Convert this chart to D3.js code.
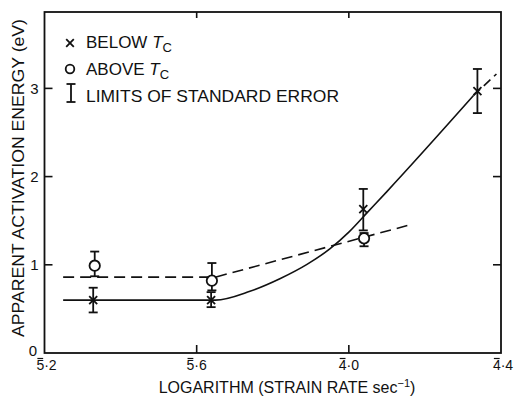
<!DOCTYPE html>
<html>
<head>
<meta charset="utf-8">
<script src="https://cdn.jsdelivr.net/npm/d3@7"></script>
<style>
  html, body { margin: 0; padding: 0; background: #fff; }
  svg { display: block; font-family: "Liberation Sans", Arial, sans-serif; }
</style>
</head>
<body>
<svg id="chart" width="515" height="401"></svg>
<script>
// ---- data (log strain rate, activation energy eV) ----
const belowTc = [
  { x: -4.672, y: 0.60, lo: 0.46, hi: 0.74 },
  { x: -4.362, y: 0.60, lo: 0.52, hi: 0.69 },
  { x: -3.962, y: 1.63, lo: 1.39, hi: 1.86 },
  { x: -3.662, y: 2.97, lo: 2.72, hi: 3.22 }
];
const aboveTc = [
  { x: -4.668, y: 0.99, lo: 0.87, hi: 1.15 },
  { x: -4.360, y: 0.82, lo: 0.71, hi: 1.02 },
  { x: -3.960, y: 1.30, lo: 1.21, hi: 1.36 }
];
// fitted curves as drawn
const belowCurve = [
  [-4.751, 0.60], [-4.351, 0.60], [-4.26, 0.70], [-4.18, 0.845],
  [-4.11, 1.005], [-4.05, 1.18], [-4.0, 1.37], [-3.95, 1.60],
  [-3.90, 1.83], [-3.672, 2.92]
];
const belowExtrap = [[-3.672, 2.92], [-3.612, 3.163]];
const aboveCurve = [[-4.751, 0.86], [-4.351, 0.86], [-3.833, 1.46]];

const xTicks = [-4.8, -4.4, -4.0, -3.6];
const xTickLabels = [["5", "·2"], ["5", "·6"], ["4", "·0"], ["4", "·4"]];
const yTicks = [0, 1, 2, 3];

// ---- layout ----
const svg = d3.select("#chart");
const M = { top: 12, right: 14, bottom: 48, left: 44.5 };
const W = 515 - M.left - M.right;
const H = 401 - M.top - M.bottom;

const x = d3.scaleLinear().domain([-4.8, -3.6]).range([M.left, M.left + W]);
const y = d3.scaleLinear().domain([0, 3.866]).range([M.top + H, M.top]);

const ink = "#111";

// frame
svg.append("rect")
  .attr("x", x(-4.8)).attr("y", y(3.866))
  .attr("width", x(-3.6) - x(-4.8)).attr("height", y(0) - y(3.866))
  .attr("fill", "none").attr("stroke", ink).attr("stroke-width", 1.8);

// inward ticks, both sides
const TL = 8;
yTicks.filter(d => d > 0).forEach(d => {
  svg.append("line").attr("x1", x(-4.8)).attr("x2", x(-4.8) + TL)
    .attr("y1", y(d)).attr("y2", y(d)).attr("stroke", ink).attr("stroke-width", 1.6);
  svg.append("line").attr("x1", x(-3.6)).attr("x2", x(-3.6) - TL)
    .attr("y1", y(d)).attr("y2", y(d)).attr("stroke", ink).attr("stroke-width", 1.6);
});
xTicks.slice(1, -1).forEach(d => {
  svg.append("line").attr("x1", x(d)).attr("x2", x(d))
    .attr("y1", y(0)).attr("y2", y(0) - TL).attr("stroke", ink).attr("stroke-width", 1.6);
  svg.append("line").attr("x1", x(d)).attr("x2", x(d))
    .attr("y1", y(3.866)).attr("y2", y(3.866) + TL - 2).attr("stroke", ink).attr("stroke-width", 1.6);
});

// y tick labels
svg.selectAll("text.ytl").data(yTicks).join("text")
  .attr("class", "ytl")
  .attr("x", d => d === 0 ? 37 : x(-4.8) - 6)
  .attr("y", d => d === 0 ? y(d) + 3 : y(d) + 5.5)
  .attr("text-anchor", "end").attr("font-size", 15).attr("fill", ink)
  .text(d => d);

// x tick labels with bar over characteristic
xTicks.forEach((d, i) => {
  let cx = x(d);
  if (i === 0) cx += 2;
  if (i === xTicks.length - 1) cx += 2;
  const t = svg.append("text")
    .attr("x", cx).attr("y", 370).attr("text-anchor", "middle")
    .attr("font-size", 14).attr("fill", ink);
  t.append("tspan").text(xTickLabels[i][0]);
  t.append("tspan").text(xTickLabels[i][1]);
  const b = t.node().getExtentOfChar(0);
  svg.append("line")
    .attr("x1", b.x + 1).attr("x2", b.x + b.width - 1)
    .attr("y1", 358.5).attr("y2", 358.5)
    .attr("stroke", ink).attr("stroke-width", 1.2);
});

// axis titles
const xt = svg.append("text")
  .attr("x", 287).attr("y", 393).attr("text-anchor", "middle")
  .attr("font-size", 16).attr("fill", ink);
xt.append("tspan").text("LOGARITHM (STRAIN RATE sec");
xt.append("tspan").attr("dy", -6).attr("font-size", 11).text("−1");
xt.append("tspan").attr("dy", 6).text(")");

svg.append("text")
  .attr("transform", "translate(24,178) rotate(-90)")
  .attr("text-anchor", "middle").attr("font-size", 16).attr("fill", ink)
  .attr("textLength", 318).attr("lengthAdjust", "spacingAndGlyphs")
  .text("APPARENT ACTIVATION ENERGY (eV)");

// ---- curves ----
const plot = svg.append("g");
const line = d3.line().x(d => x(d[0])).y(d => y(d[1]));

plot.append("path").datum(aboveCurve)
  .attr("d", line).attr("fill", "none").attr("stroke", ink)
  .attr("stroke-width", 1.6).attr("stroke-dasharray", "11,6");

plot.append("path").datum(belowCurve)
  .attr("d", d3.line().x(d => x(d[0])).y(d => y(d[1])).curve(d3.curveMonotoneX))
  .attr("fill", "none").attr("stroke", ink).attr("stroke-width", 1.6);

plot.append("path").datum(belowExtrap)
  .attr("d", line).attr("fill", "none")
  .attr("stroke", ink).attr("stroke-width", 1.6).attr("stroke-dasharray", "9,5");

// ---- error bars ----
function errBar(g, cx, lo, hi) {
  const cw = 4.5;
  g.append("line").attr("x1", cx).attr("x2", cx).attr("y1", lo).attr("y2", hi)
    .attr("stroke", ink).attr("stroke-width", 1.8);
  [lo, hi].forEach(v => g.append("line")
    .attr("x1", cx - cw).attr("x2", cx + cw).attr("y1", v).attr("y2", v)
    .attr("stroke", ink).attr("stroke-width", 1.8));
}
function cross(g, cx, cy, s) {
  g.append("path")
    .attr("d", `M${cx - s},${cy - s}L${cx + s},${cy + s}M${cx - s},${cy + s}L${cx + s},${cy - s}`)
    .attr("stroke", ink).attr("stroke-width", 1.8).attr("fill", "none");
}

belowTc.forEach(d => {
  errBar(plot, x(d.x), y(d.lo), y(d.hi));
  cross(plot, x(d.x), y(d.y), 4);
});
aboveTc.forEach(d => {
  errBar(plot, x(d.x), y(d.lo), y(d.hi));
  plot.append("circle").attr("cx", x(d.x)).attr("cy", y(d.y)).attr("r", 5.2)
    .attr("fill", "#fff").attr("stroke", ink).attr("stroke-width", 1.8);
});

// ---- legend ----
const leg = svg.append("g");
cross(leg, 70, 43, 3.8);
leg.append("circle").attr("cx", 70).attr("cy", 69).attr("r", 4.3)
  .attr("fill", "none").attr("stroke", ink).attr("stroke-width", 1.8);
errBar(leg, 71, 102, 84);

const legText = [
  { y: 48, label: "BELOW ", tc: true },
  { y: 75, label: "ABOVE ", tc: true },
  { y: 102, label: "LIMITS OF STANDARD ERROR", tc: false }
];
legText.forEach(d => {
  const t = leg.append("text").attr("x", 86).attr("y", d.y)
    .attr("font-size", 17).attr("fill", ink);
  if (d.tc) {
    t.append("tspan").text(d.label);
    t.append("tspan").attr("font-style", "italic").text("T");
    t.append("tspan").attr("dy", 4).attr("font-size", 13).text("C");
  } else {
    t.attr("textLength", 253).attr("lengthAdjust", "spacingAndGlyphs").text(d.label);
  }
});
</script>
</body>
</html>
